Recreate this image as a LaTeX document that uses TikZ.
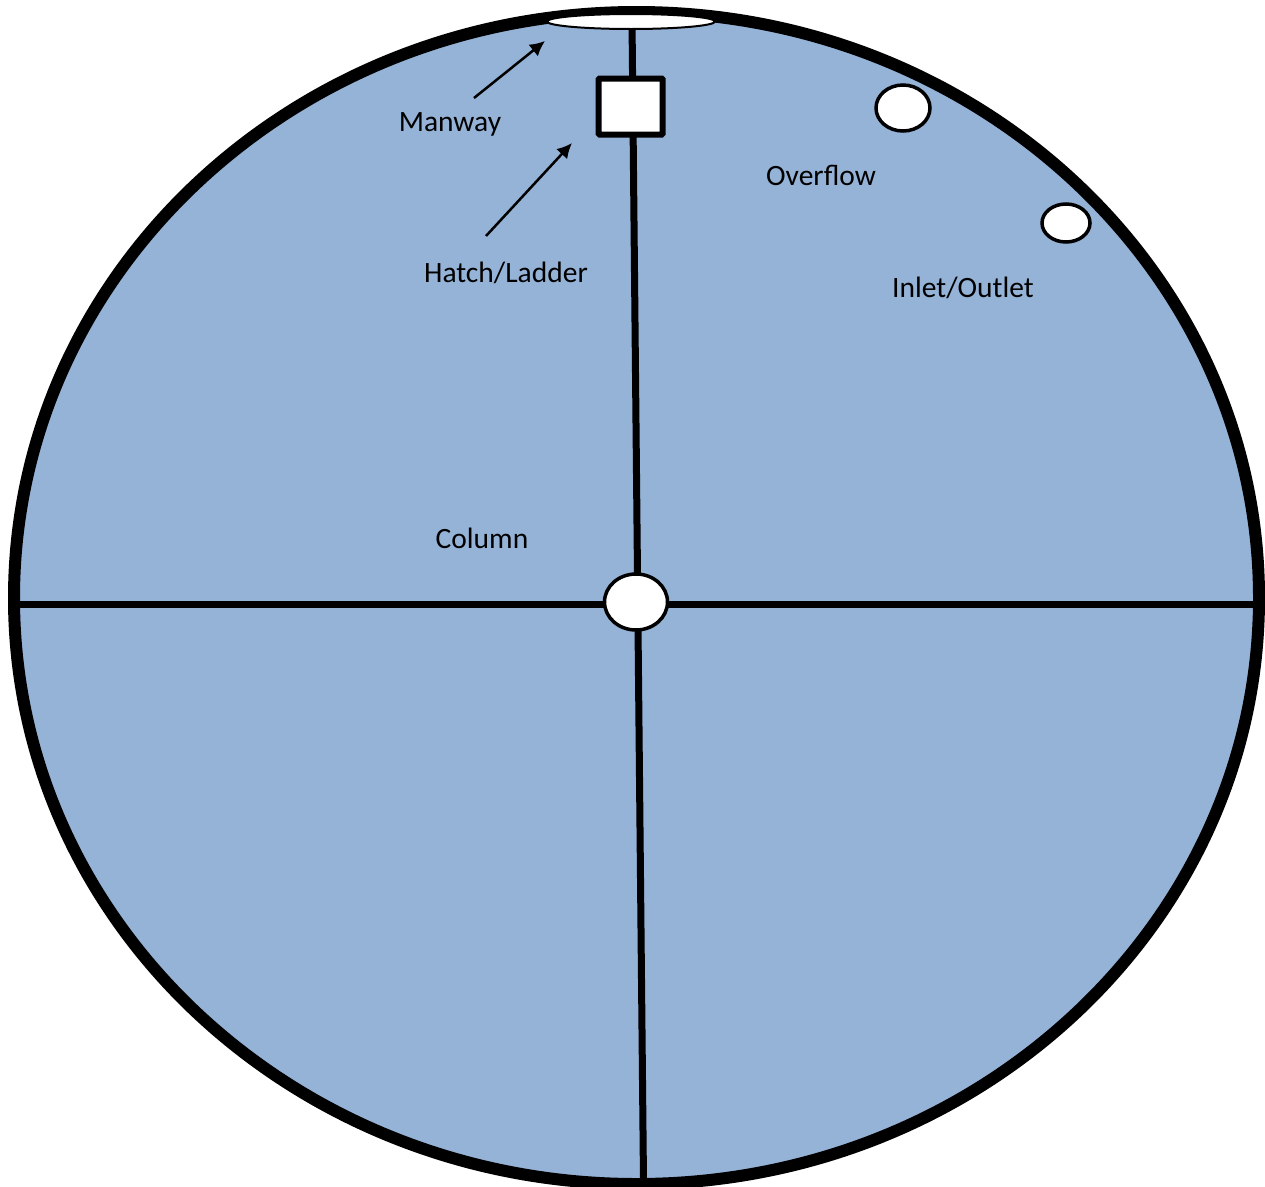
\documentclass[tikz,border=0pt]{standalone}
\usepackage{fontspec}
\setmainfont{Carlito}
\usetikzlibrary{arrows.meta,positioning,shapes.geometric}
\definecolor{water}{HTML}{95B3D7}

\begin{document}
\begin{tikzpicture}[x=1pt,y=-1pt,
 tank/.style={ellipse,draw=black,fill=water,line width=12pt,inner sep=0pt,outer sep=0pt},
 port/.style={ellipse,draw=black,fill=white,line width=3.5pt,inner sep=0pt,outer sep=0pt},
 wall/.style={black,line width=7pt},
 label/.style={font=\fontsize{29.5}{34}\selectfont,text=black,inner sep=0pt},
 arrow/.style={-{Latex[length=15pt,width=15pt]},line width=2.5pt,black}]
 \path[use as bounding box] (0,0) rectangle (1265,1186);
 \clip (0,0) rectangle (1265,1186);
 \node[tank,minimum width=1245pt,minimum height=1172pt] (tank) at (636.5,598) {};
 \coordinate (top) at (632,20); \coordinate (bottom) at (643.5,1182);
 \coordinate (west) at (16,604); \coordinate (east) at (1256,604);
 \draw[wall] (top)--(bottom); \draw[wall] (west)--(east);
 \node[port,minimum width=168pt,minimum height=15pt,line width=2pt] (manway) at (631,21.5) {};
 \node[draw=black,fill=white,line width=6pt,rounded corners=1pt,minimum width=64pt,minimum height=56pt,inner sep=0pt] (hatch) at (630.5,106.5) {};
 \node[port,minimum width=63pt,minimum height=56pt] (column) at (636,602) {};
 \node[port,minimum width=54pt,minimum height=46pt] (overflow) at (903,108) {};
 \node[port,minimum width=48pt,minimum height=38pt] (inlet) at (1066,223) {};
 \node[label] (manwaytxt) at (450,124) {Manway};
 \node[label] (hatchtxt) at (506,273) {Hatch/Ladder};
 \node[label] (overflowtxt) at (821,175) {Overflow};
 \node[label] (inlettxt) at (963,288) {Inlet/Outlet};
 \node[label] (columntxt) at (482,538) {Column};
 \coordinate (manwaytail) at (474,98); \coordinate (manwaytip) at (545,41);
 \coordinate (hatchtail) at (486,236); \coordinate (hatchtip) at (572,143);
 \draw[arrow] (manwaytail)--(manwaytip); \draw[arrow] (hatchtail)--(hatchtip);
\end{tikzpicture}
\end{document}
